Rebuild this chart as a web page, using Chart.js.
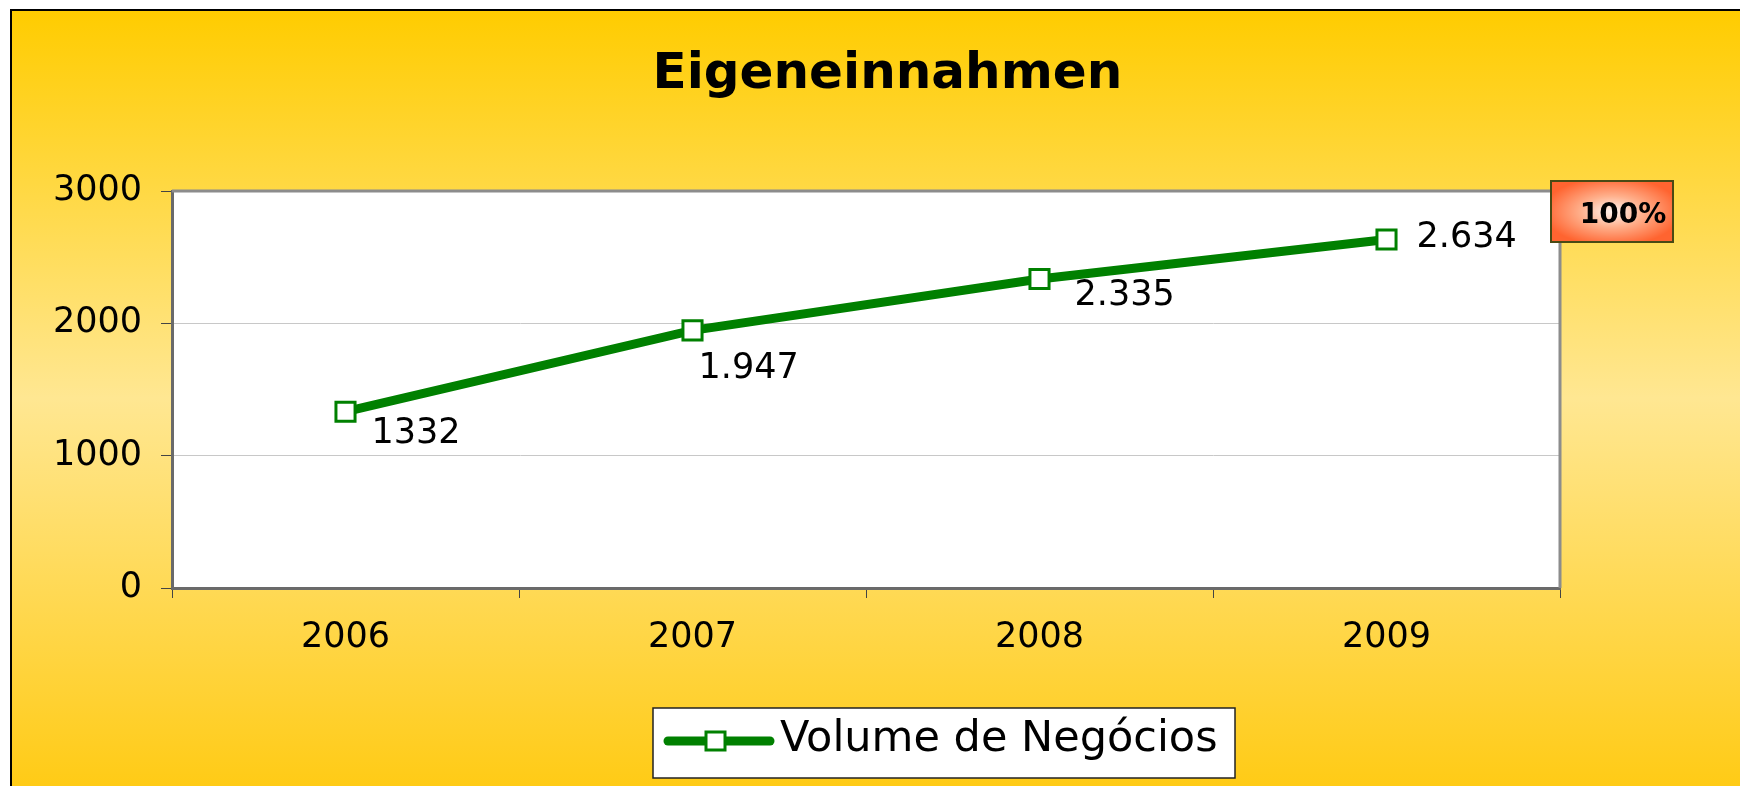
<!DOCTYPE html>
<html>
<head>
<meta charset="utf-8">
<script src="https://cdn.jsdelivr.net/npm/chart.js@4/dist/chart.umd.min.js"></script>
<style>
  html, body { margin: 0; padding: 0; background: #fff; }
  #wrap { width: 1740px; height: 786px; }
</style>
</head>
<body>
<div id="wrap"><canvas id="chart" width="1740" height="786"></canvas></div>
<script>
// data
const years = ['2006', '2007', '2008', '2009'];
const volume = [1332, 1947, 2335, 2634];
const volumeLabels = ['1332', '1.947', '2.335', '2.634'];
const seriesName = 'Volume de Negócios';
const chartTitle = 'Eigeneinnahmen';
const badgeText = '100%';

const FONT = '"DejaVu Sans", sans-serif';
const GREEN = '#008000';

// where each value label sits relative to its point (hand placed in the original)
const labelOffsets = [[26, 22], [6, 39], [35, 17], [30, -2]];

// background, frame and white plot area
const backdrop = {
  id: 'backdrop',
  beforeDraw(chart) {
    const { ctx, width, height, chartArea: a } = chart;
    ctx.save();
    ctx.fillStyle = '#fff';
    ctx.fillRect(0, 0, width, height);
    const g = ctx.createLinearGradient(0, 10, 0, height);
    g.addColorStop(0, '#FFCC00');
    g.addColorStop(0.5, '#FFE792');
    g.addColorStop(1, '#FFCB16');
    ctx.fillStyle = g;
    ctx.fillRect(11, 10, width - 11, height - 10);
    ctx.strokeStyle = '#000';
    ctx.lineWidth = 2;
    ctx.beginPath();
    ctx.moveTo(11, height);
    ctx.lineTo(11, 10);
    ctx.lineTo(width, 10);
    ctx.stroke();
    ctx.fillStyle = '#fff';
    ctx.fillRect(a.left, a.top, a.width, a.height);

    // title
    ctx.fillStyle = '#000';
    ctx.font = 'bold 50px ' + FONT;
    ctx.textAlign = 'center';
    ctx.textBaseline = 'alphabetic';
    ctx.fillText(chartTitle, width * 0.51, 88);
    ctx.restore();
  },
  beforeDatasetsDraw(chart) {
    // grey top / right edge of the plot area
    const { ctx, chartArea: a } = chart;
    ctx.save();
    ctx.strokeStyle = '#8C8C8C';
    ctx.lineWidth = 3;
    ctx.beginPath();
    ctx.moveTo(a.left, a.top);
    ctx.lineTo(a.right, a.top);
    ctx.lineTo(a.right, a.bottom);
    ctx.stroke();
    ctx.restore();
  }
};

// value labels next to the points
const valueLabels = {
  id: 'valueLabels',
  afterDatasetsDraw(chart) {
    const { ctx } = chart;
    const pts = chart.getDatasetMeta(0).data;
    ctx.save();
    ctx.fillStyle = '#000';
    ctx.font = '35px ' + FONT;
    ctx.textAlign = 'left';
    ctx.textBaseline = 'middle';
    pts.forEach((p, i) => {
      const [dx, dy] = labelOffsets[i];
      ctx.fillText(volumeLabels[i], p.x + dx, p.y + dy);
    });
    ctx.restore();
  }
};

// legend box and the "100%" badge
const extras = {
  id: 'extras',
  afterDraw(chart) {
    const { ctx, chartArea: a } = chart;
    ctx.save();

    // legend
    const lx = 653, ly = 708, lw = 582, lh = 70;
    const cy = ly + lh / 2;
    ctx.fillStyle = '#fff';
    ctx.fillRect(lx, ly, lw, lh);
    ctx.strokeStyle = '#222';
    ctx.lineWidth = 1.5;
    ctx.strokeRect(lx, ly, lw, lh);
    ctx.strokeStyle = GREEN;
    ctx.lineWidth = 9;
    ctx.lineCap = 'round';
    ctx.beginPath();
    ctx.moveTo(lx + 15, cy - 2);
    ctx.lineTo(lx + 117, cy - 2);
    ctx.stroke();
    ctx.lineCap = 'butt';
    ctx.fillStyle = '#fff';
    ctx.lineWidth = 3;
    ctx.fillRect(lx + 53, cy - 11, 19, 18);
    ctx.strokeRect(lx + 53, cy - 11, 19, 18);
    ctx.fillStyle = '#000';
    ctx.font = '43px ' + FONT;
    ctx.textAlign = 'left';
    ctx.textBaseline = 'middle';
    ctx.fillText(seriesName, lx + 127, cy - 3);

    // badge
    const bx = a.right - 9, by = a.top - 10, bw = 122, bh = 61;
    ctx.save();
    ctx.translate(bx + bw / 2, by + bh / 2);
    ctx.scale(bw / bh, 1);
    const rg = ctx.createRadialGradient(0, 0, 0, 0, 0, bh / 2 + 4);
    rg.addColorStop(0, '#FFF4EE');
    rg.addColorStop(0.45, '#FFB08C');
    rg.addColorStop(1, '#FF6430');
    ctx.fillStyle = rg;
    ctx.fillRect(-bh / 2, -bh / 2, bh, bh);
    ctx.restore();
    ctx.strokeStyle = '#4A4A14';
    ctx.lineWidth = 2;
    ctx.strokeRect(bx, by, bw, bh);
    ctx.fillStyle = '#000';
    ctx.font = 'bold 28px ' + FONT;
    ctx.textAlign = 'center';
    ctx.textBaseline = 'middle';
    ctx.fillText(badgeText, bx + bw / 2 + 11, by + bh / 2 + 4);

    ctx.restore();
  }
};

new Chart(document.getElementById('chart'), {
  type: 'line',
  data: {
    labels: years,
    datasets: [{
      label: seriesName,
      data: volume,
      borderColor: GREEN,
      borderWidth: 9,
      tension: 0,
      pointStyle: 'rect',
      pointRadius: 13.5,
      pointBorderWidth: 3,
      pointBorderColor: GREEN,
      pointBackgroundColor: '#fff'
    }]
  },
  options: {
    responsive: false,
    animation: false,
    devicePixelRatio: 1,
    layout: { padding: { top: 191, right: 180, bottom: 0, left: 0 } },
    plugins: {
      legend: { display: false },
      title: { display: false },
      tooltip: { enabled: false }
    },
    scales: {
      x: {
        type: 'category',
        offset: true,
        grid: {
          offset: true,
          drawOnChartArea: false,
          tickLength: 10,
          tickColor: '#444',
          tickWidth: 1
        },
        border: { color: '#6A6A6A', width: 3 },
        ticks: { color: '#000', font: { family: FONT, size: 35 }, padding: 19 },
        afterFit(scale) { scale.height = 198; }
      },
      y: {
        min: 0,
        max: 3000,
        ticks: {
          stepSize: 1000,
          color: '#000',
          font: { family: FONT, size: 35 },
          padding: 19,
          callback: v => String(v)
        },
        grid: {
          color: c => (c.tick && c.tick.value === 3000) ? 'rgba(0,0,0,0)' : '#C8C8C8',
          lineWidth: 1,
          tickLength: 11,
          tickColor: '#444'
        },
        border: { color: '#6A6A6A', width: 3 },
        afterFit(scale) { scale.width = 172; }
      }
    }
  },
  plugins: [backdrop, valueLabels, extras]
});
</script>
</body>
</html>
